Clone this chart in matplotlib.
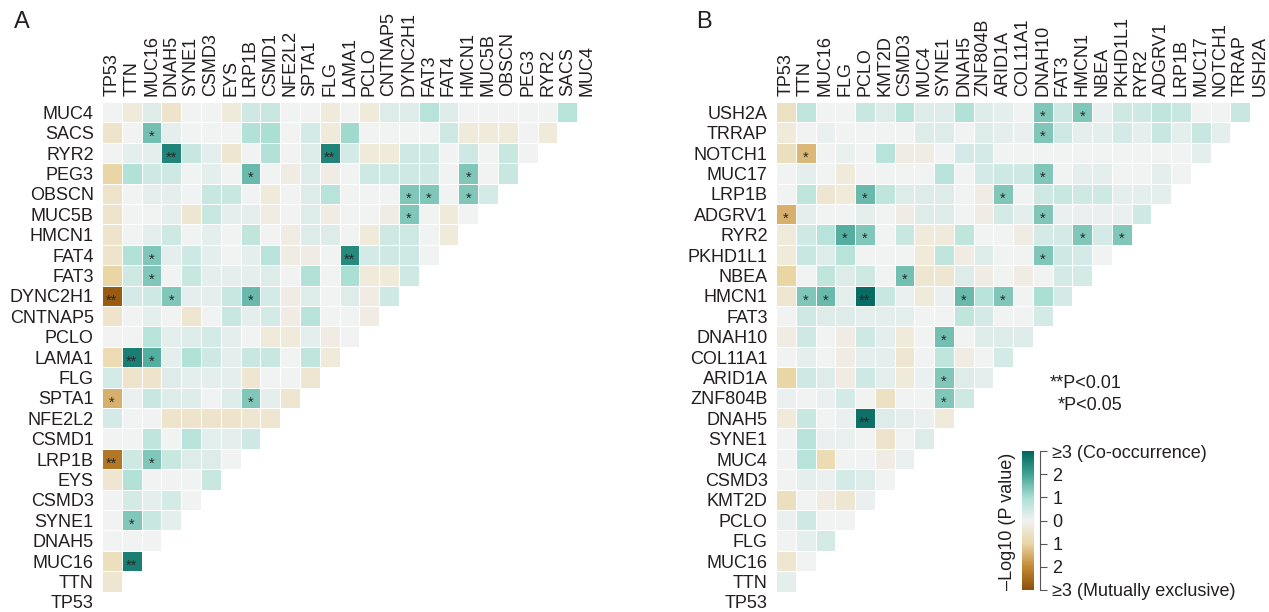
import numpy as np
import matplotlib.pyplot as plt
from matplotlib.colors import LinearSegmentedColormap, Normalize

plt.rcParams['font.family'] = ['Liberation Sans', 'DejaVu Sans']
TXT = '#231f20'

# Panel A: genes in column order (left to right); rows are the same genes reversed
genes_a = ['TP53', 'TTN', 'MUC16', 'DNAH5', 'SYNE1', 'CSMD3', 'EYS', 'LRP1B', 'CSMD1',
           'NFE2L2', 'SPTA1', 'FLG', 'LAMA1', 'PCLO', 'CNTNAP5', 'DYNC2H1', 'FAT3',
           'FAT4', 'HMCN1', 'MUC5B', 'OBSCN', 'PEG3', 'RYR2', 'SACS', 'MUC4']

# signed -log10(P): positive = co-occurrence, negative = mutually exclusive
# one list per row, top (MUC4) to bottom (TP53)
vals_a = [
    [0, -0.3, 0.3, -0.5, 0, 0, -0.3, 0.5, 0.6, 0, 0, -0.3, 0, -0.3, 0.3, 0.3, 0.8, 0.3, 0, 0, 0, 0, 0, 0.8],
    [-0.5, 0, 1.5, 0.2, 0, 0, 0, 0.9, 1.0, 0, 0.4, -0.3, 1.1, 0, 0, 0, 0, 0.5, -0.3, -0.3, -0.3, 0, -0.3],
    [0, 0.2, 0.2, 2.5, 0.6, 0.2, -0.4, 0, 0.9, 0, 0.3, 2.5, 0.4, -0.3, -0.3, 0.5, 0.5, 0, 0.5, 0, 0.6, 0],
    [-1.0, 0.9, 0.5, 0.5, 0, 0.2, 0, 1.6, 0, -0.2, 0.3, -0.2, 0, 0.5, 0.5, 0.5, 0.5, 0, 1.4, 0, 0.6],
    [-0.5, 0, 0.2, 0.2, 0, 0.6, 0.6, 0, -0.3, 0, 0.3, 0.8, 0, 0, 0, 1.4, 1.4, 0, 1.4, 0.4],
    [-0.5, 0, 0, 0.2, -0.4, 0.6, 0.2, 0.2, -0.2, 0, 0.3, -0.2, 0, 0, -0.2, 1.4, 0, -0.3, 0],
    [-0.5, 0, 0.2, 0.5, 0, 0.2, 0, 0.7, 0, -0.2, 0.3, 0.3, 0, -0.3, 0.5, 0.5, 0, -0.3],
    [-0.5, 0.9, 1.4, 0.2, 0.5, 0.2, 0, 0.2, 0.8, -0.2, -0.2, 0, 2.4, 0.4, 0.5, 0.5, 0],
    [-1.0, 0.5, 1.4, 0, 0.6, 0.2, 0.2, 0.2, 0.3, 0, 0.9, 0, 1.0, -0.3, -0.3, 0.5],
    [-2.8, 0.4, 0.5, 1.4, 0.2, 0.2, 0.6, 1.6, 0.4, -0.2, 0.3, 0, 0.3, -0.2, 0.5],
    [-0.5, 0, 0.2, 0, -0.4, 0, 0.6, 0.2, 0.4, -0.2, 0.8, 0, 0, -0.2],
    [0, 0, 0.8, 0.2, 0.3, 0.4, 0.2, 0, -0.3, -0.3, 0.2, -0.2, 0],
    [-0.8, 2.6, 1.8, 0.2, 0.9, 0.5, 0.2, 0.6, 0.6, 0, 0.7, -0.3],
    [0.4, -0.5, -0.5, 0.3, 0.2, 0.2, 0.2, -0.4, 0, 0, -0.4],
    [-1.5, 0.1, 0.6, 0.3, 0.3, 0, 0.3, 1.4, 0.2, -0.4],
    [0.4, 0, 0, -0.5, -0.5, -0.5, -0.5, -0.4, -0.4],
    [0, 0, 0.7, 0, 0.8, 0.2, 0.2, 0.5],
    [-2.3, 0.5, 1.4, 0.6, 0.3, 0.3, 0],
    [-0.4, 0.9, 0, 0, 0, 0.6],
    [0, 0.4, 0.2, 0.4, 0],
    [0, 1.4, 0.6, 0.2],
    [0, 0, 0],
    [-0.7, 2.6],
    [-0.4],
    [],
]

# Panel B
genes_b = ['TP53', 'TTN', 'MUC16', 'FLG', 'PCLO', 'KMT2D', 'CSMD3', 'MUC4', 'SYNE1',
           'DNAH5', 'ZNF804B', 'ARID1A', 'COL11A1', 'DNAH10', 'FAT3', 'HMCN1', 'NBEA',
           'PKHD1L1', 'RYR2', 'ADGRV1', 'LRP1B', 'MUC17', 'NOTCH1', 'TRRAP', 'USH2A']

vals_b = [
    [-0.6, 0.7, 0, 0, 0.6, 0.3, 0.8, 0.3, 0.3, 0.9, 0.3, 0.2, 0, 1.4, 0.5, 1.4, 0.1, 0.5, 0.5, 0.7, 0.6, 0, 0, 0.6],
    [-0.3, 0, 0.1, 0, 0, 0, 0, 0.3, 0.3, 0, 0.3, 0.2, 0.1, 1.4, 0.5, 0.2, 0.2, 0.4, 0.2, 0.6, 0.2, 0.6, 0.2],
    [-0.7, -1.4, 0, 0.1, 0, 0.8, -0.2, -0.2, 0, 0.4, 0.4, 0, 0, 0, 0, 0, 0, 0, 0, 0, 0, 0.2],
    [0, 0.2, 0, -0.3, 0, 0, 0, 0, 0.8, 0, 0.4, 0.5, 0.5, 1.4, 0, 0.2, 0.2, 0, 0, 0.2, 0],
    [0, 0.7, -0.4, -0.3, 1.6, 0.7, 0.3, 0.3, 0.3, 0, -0.2, 1.4, 0, 0.5, 0.6, 0.5, 0.5, 0.2, 0.2, 0.2],
    [-1.5, 0.2, 0, 0, 0.2, 0, -0.2, 0.3, 0.3, 0, -0.2, 0.4, 0.2, 1.4, 0.1, 0.1, 0.1, 0.1, 0.5],
    [-0.3, 0.5, 0.8, 1.8, 1.4, 0, 0.6, -0.3, -0.3, 0.7, 0, 0, -0.2, 0.4, 0.4, 1.4, 0.4, 1.4],
    [-0.3, 0.6, 0.3, 0.8, 0, 0, 0, -0.3, 0.7, -0.2, 0.3, 0, 0, 1.4, 0.5, 0.4, 0],
    [-1.0, 0, 0.7, 0.3, 0.5, 0, 1.5, -0.4, -0.4, 0.3, -0.2, 0, -0.2, 0, 0.4, 0.4],
    [-0.4, 1.4, 1.6, 0.2, 2.9, 0.6, 0.1, -0.3, 0.1, 1.6, 0.8, 1.4, 0, 1.0, 0.4],
    [0, 0.5, 0.3, 0.3, 0.2, 0.2, 0.2, 0, 0, 0.7, 0.4, 0, 0, 0.4],
    [-0.2, 0.5, 0, -0.2, 0.5, 0.2, -0.3, 0, 1.5, 0, 0.3, 0.3, 0.3],
    [0, 0.2, 0, -0.2, 0.2, 0.2, -0.4, 0, 0.7, -0.2, 0, 0.4],
    [-1.0, 0.5, 0.3, -0.2, 0.5, 0.2, -0.3, 0.1, 1.4, 0.3, 0.2],
    [0.1, 0, 0.1, 0.4, 0, -0.6, 0, 0, 1.4, 0.5],
    [-0.3, 0.6, 0, 0.1, 2.8, 0.3, 0.2, 0.1, -0.3],
    [0, 0.8, 0.1, 0.1, 0, -0.5, 0, 0.3],
    [0, 0.8, -0.8, 0, 0, -0.2, 0.1],
    [0, 0.2, 0.1, 0.4, 0.3, 0],
    [-0.7, 0, -0.2, -0.4, 0.1],
    [0.1, 0.5, 0, 0],
    [0, 0.2, 0.4],
    [-0.4, 0],
    [0.2],
    [],
]

cbar_ticks = [-3, -2, -1, 0, 1, 2, 3]
cbar_labels = ['\u22653 (Mutually exclusive)', '2', '1', '0', '1', '2', '\u22653 (Co-occurrence)']

cmap = LinearSegmentedColormap.from_list(
    'cooc', ['#8c510a', '#c48a35', '#ead6a5', '#f2f2f2', '#aadfd4', '#40a393', '#01665e'])
norm = Normalize(-3, 3)

W, H = 1269, 612
fig = plt.figure(figsize=(W / 100, H / 100), dpi=100)


def draw_panel(left, cw, genes, vals):
    n = len(genes)
    rh = 20.4
    top = 102
    ax = fig.add_axes([left / W, 1 - (top + n * rh) / H, n * cw / W, n * rh / H])
    m = np.full((n, n), np.nan)
    for i, row in enumerate(vals):
        m[i, :len(row)] = row
    ax.pcolormesh(np.arange(n + 1), np.arange(n + 1), np.ma.masked_invalid(m),
                  cmap=cmap, norm=norm, edgecolors='white', linewidth=0.5)
    for i, row in enumerate(vals):
        for j, v in enumerate(row):
            if abs(v) >= 2:
                s = '**'
            elif abs(v) >= 1.3:
                s = '*'
            else:
                continue
            ax.text(j + 0.5, i + 0.72, s, ha='center', va='center', fontsize=10.5, color='#2a2a2a')
    ax.set_xlim(0, n)
    ax.set_ylim(n, 0)
    ax.xaxis.tick_top()
    ax.set_xticks(np.arange(n) + 0.5)
    ax.set_xticklabels(genes, rotation=90, fontsize=13, color=TXT)
    ax.set_yticks(np.arange(n) + 0.5)
    ax.set_yticklabels(genes[::-1], fontsize=13, color=TXT)
    ax.tick_params(axis='x', length=0, pad=4)
    ax.tick_params(axis='y', length=0, pad=6)
    for sp in ax.spines.values():
        sp.set_visible(False)
    return ax


draw_panel(102, 19.8, genes_a, vals_a)
draw_panel(776, 19.75, genes_b, vals_b)

fig.text(14 / W, 1 - 22 / H, 'A', fontsize=17, va='center', color=TXT)
fig.text(696 / W, 1 - 22 / H, 'B', fontsize=17, va='center', color=TXT)

# colour bar
cb_bottom = 1 - 590 / H
cb_height = 139 / H
cax = fig.add_axes([1022 / W, cb_bottom, 12 / W, cb_height])
cax.imshow(np.linspace(-3, 3, 256).reshape(-1, 1), aspect='auto', origin='lower',
           extent=[0, 1, -3, 3], cmap=cmap, norm=norm)
cax.axis('off')

tax = fig.add_axes([1030 / W, cb_bottom, 10 / W, cb_height])
tax.patch.set_visible(False)
tax.set_ylim(-3, 3)
tax.set_xticks([])
tax.yaxis.tick_right()
tax.set_yticks(cbar_ticks)
tax.set_yticklabels(cbar_labels, fontsize=13, color=TXT)
tax.tick_params(axis='y', length=5, width=0.8, color='#555555', pad=4)
for k in ['left', 'top', 'bottom']:
    tax.spines[k].set_visible(False)
tax.spines['right'].set_linewidth(0.8)
tax.spines['right'].set_color('#555555')

fig.text(1007 / W, 1 - 521 / H, '\u2013Log10 (P value)', rotation=90,
         ha='center', va='center', fontsize=13, color=TXT)

fig.text(1122 / W, 1 - 383 / H, '**P<0.01', ha='right', va='center', fontsize=13, color=TXT)
fig.text(1122 / W, 1 - 405 / H, '*P<0.05', ha='right', va='center', fontsize=13, color=TXT)

fig.savefig('out.png', dpi=100)
